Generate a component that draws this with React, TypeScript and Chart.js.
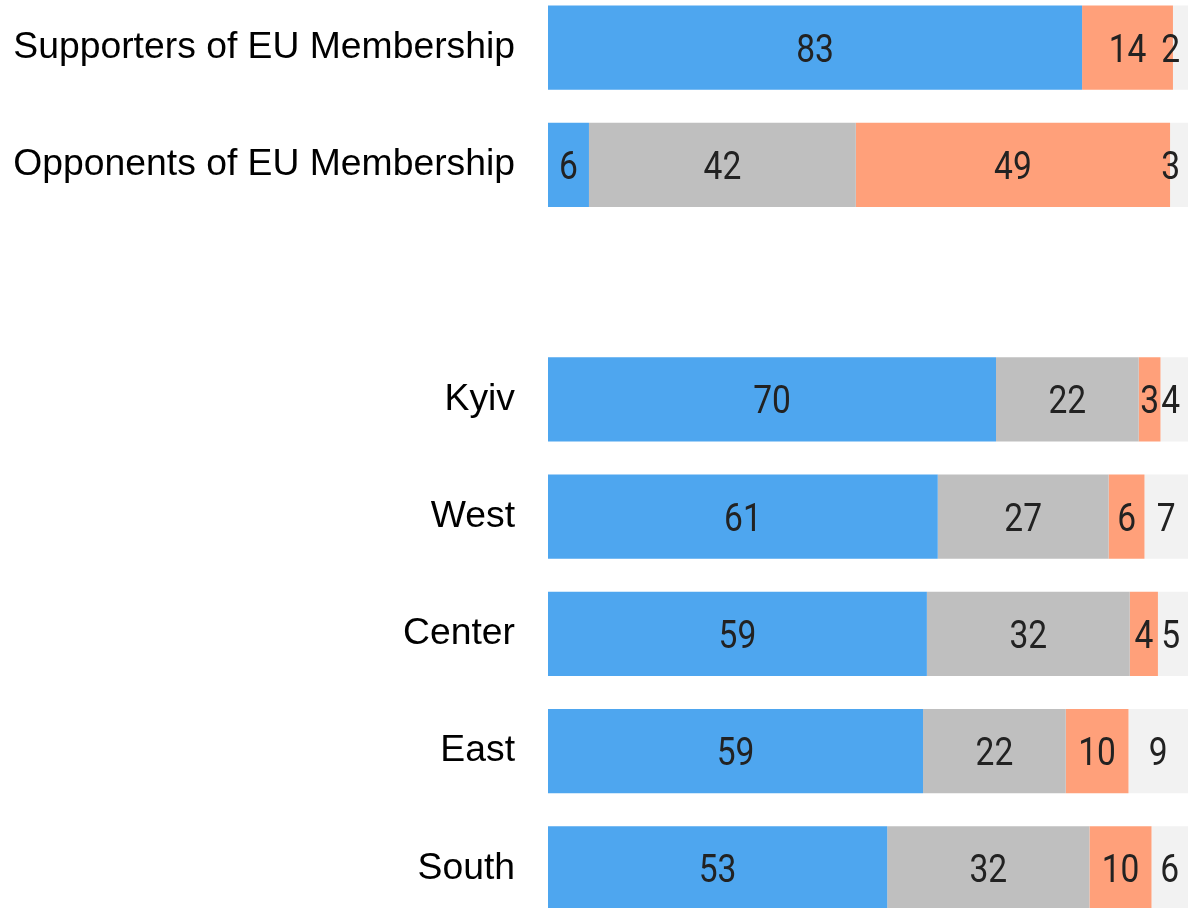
import React, { useEffect, useRef } from 'react';
import { Chart, registerables } from 'chart.js';

Chart.register(...registerables);

const categories = [
  'Supporters of EU Membership',
  'Opponents of EU Membership',
  '',
  'Kyiv',
  'West',
  'Center',
  'East',
  'South',
];

const blueValues = [83.45, 6.4, null, 70.0, 60.9, 59.2, 58.6, 53.0];
const grayValues = [0, 41.7, null, 22.3, 26.7, 31.7, 22.3, 31.6];
const orangeValues = [14.2, 49.1, null, 3.4, 5.6, 4.4, 9.8, 9.7];
const restValues = [2.35, 2.8, null, 4.3, 6.8, 4.7, 9.3, 5.7];

const seriesColors = ['#4ea6ef', '#bfbfbf', '#ffa07a', '#f2f2f2'];

const SX = 0.86;

const valueLabels = {
  id: 'valueLabels',
  afterDatasetsDraw(chart: any) {
    const ctx = chart.ctx;
    chart.data.datasets.forEach((ds: any, di: number) => {
      const meta = chart.getDatasetMeta(di);
      meta.data.forEach((bar: any, i: number) => {
        const v = ds.data[i];
        if (v == null || v <= 0) return;
        const p = bar.getProps(['x', 'base', 'y'], true);
        const text = String(Math.round(v));
        ctx.save();
        ctx.font = '39px Roboto';
        const w = ctx.measureText(text).width * SX;
        let cx = (p.x + p.base) / 2;
        const maxRight = chart.chartArea.right - 8;
        if (cx + w / 2 > maxRight) cx = maxRight - w / 2;
        ctx.translate(cx, p.y + 14);
        ctx.scale(SX, 1);
        ctx.textAlign = 'center';
        ctx.textBaseline = 'alphabetic';
        ctx.fillStyle = '#222222';
        ctx.fillText(text, 0, 0);
        ctx.restore();
      });
    });
  },
};

export default function App() {
  const ref = useRef<HTMLCanvasElement | null>(null);

  useEffect(() => {
    if (!ref.current) return;
    const mk = (label: string, data: (number | null)[], color: string) => ({
      label,
      data,
      backgroundColor: color,
      borderWidth: 0,
      barPercentage: 0.72,
      categoryPercentage: 1,
    });
    const chart = new Chart(ref.current, {
      type: 'bar',
      data: {
        labels: categories,
        datasets: [
          mk('Blue', blueValues, seriesColors[0]),
          mk('Gray', grayValues, seriesColors[1]),
          mk('Orange', orangeValues, seriesColors[2]),
          mk('Rest', restValues, seriesColors[3]),
        ],
      },
      options: {
        indexAxis: 'y',
        responsive: false,
        maintainAspectRatio: false,
        animation: false,
        layout: { padding: { left: 0, right: 2, top: 0, bottom: 0 } },
        plugins: {
          legend: { display: false },
          tooltip: { enabled: false },
        },
        scales: {
          x: {
            stacked: true,
            min: 0,
            max: 100,
            display: false,
          },
          y: {
            stacked: true,
            grid: { display: false, drawTicks: false },
            border: { display: false },
            ticks: {
              autoSkip: false,
              padding: 33,
              color: '#000000',
              font: { family: '"Liberation Sans", Arial, sans-serif', size: 37.3 },
            },
            afterFit(scale: any) {
              scale.width = 548;
              scale.paddingTop = 0;
              scale.paddingBottom = 0;
            },
          },
        },
      } as any,
      plugins: [valueLabels],
    });
    return () => chart.destroy();
  }, []);

  return (
    <div
      style={{
        position: 'fixed',
        left: 0,
        top: 0,
        width: 1190,
        height: 908,
        overflow: 'hidden',
        background: '#ffffff',
      }}
    >
      <canvas
        ref={ref}
        width={1190}
        height={938}
        style={{ position: 'absolute', left: 0, top: -11, width: 1190, height: 938 }}
      />
    </div>
  );
}
